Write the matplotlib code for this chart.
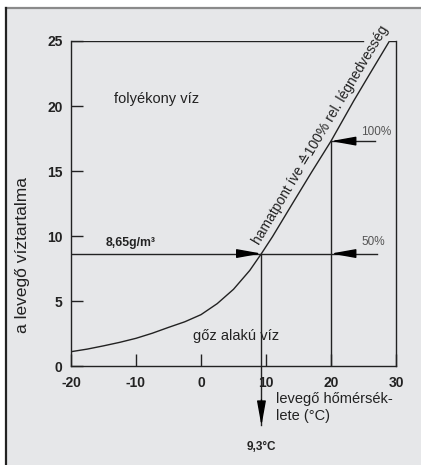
import numpy as np
import matplotlib
matplotlib.use("Agg")
import matplotlib.pyplot as plt
from matplotlib.patches import Rectangle

# dew point curve (air temperature in °C vs. water content in g/m³)
temp = [-20, -17.5, -15, -12.5, -10, -7.5, -5, -2.5, 0, 2.5, 5, 7.5, 9.3, 11, 14.2, 17, 20, 23.5, 26, 29]
water = [1.1, 1.3, 1.55, 1.82, 2.13, 2.52, 2.97, 3.4, 3.95, 4.8, 5.9, 7.35, 8.65, 9.95, 12.6, 14.9, 17.3, 20.4, 22.5, 25.0]

xticks = [-20, -10, 0, 10, 20, 30]
yticks = [0, 5, 10, 15, 20, 25]

dew_t, dew_w = 9.3, 8.65      # 50% example point
sat_t, sat_w = 20, 17.3       # 100% at 20 °C
top_line_end = 24.9           # frame top line stops before the curve label

plt.rcParams["font.family"] = ["Liberation Sans", "DejaVu Sans"]
plt.rcParams["axes.unicode_minus"] = False

fig = plt.figure(figsize=(4.21, 4.65), dpi=100)
fig.patches.append(Rectangle((6/421, 0), 1, 1 - 8/465, transform=fig.transFigure,
                             facecolor="#e6e7e9", edgecolor="none", zorder=-10))
fig.add_artist(plt.Line2D([6/421, 1], [1 - 8/465, 1 - 8/465], transform=fig.transFigure,
                          color="#8a8a8a", lw=1.6, zorder=-5))
fig.add_artist(plt.Line2D([6/421, 6/421], [0, 1 - 8/465], transform=fig.transFigure,
                          color="#222222", lw=1.6, zorder=-5))

ax = fig.add_axes([71/421, 1 - 366/465, 325/421, 325/465])
ax.set_zorder(5)
ax.set_facecolor("none")
ax.set_xlim(-20, 30)
ax.set_ylim(0, 25)
ax.spines["top"].set_visible(False)
for s in ["left", "right", "bottom"]:
    ax.spines[s].set_linewidth(1.0)
    ax.spines[s].set_color("#222222")

ax.set_xticks(xticks)
ax.set_yticks(yticks)
ax.tick_params(direction="in", length=8.6, width=1.0, color="#222222")
ax.tick_params(axis="y", pad=6.0)
ax.tick_params(axis="x", pad=7.5)
for lab in ax.get_xticklabels() + ax.get_yticklabels():
    lab.set_fontweight("bold")
    lab.set_fontsize(10)
    lab.set_color("#222222")

lc = "#222222"
# frame top line and join at the upper right
ax.plot([-20, top_line_end], [25, 25], color=lc, lw=1.0)
ax.plot([temp[-1], 30], [water[-1], water[-1]], color=lc, lw=1.0)

# dew point curve
ax.plot(temp, water, color=lc, lw=1.0)

# helper lines
ax.plot([-20, 27.1], [dew_w, dew_w], color=lc, lw=1.0)
ax.plot([sat_t, sat_t], [0, sat_w], color=lc, lw=1.0)
ax.plot([sat_t, 26.8], [sat_w, sat_w], color=lc, lw=1.0)
ax.plot([dew_t, dew_t], [dew_w, -4.5], color=lc, lw=1.0, clip_on=False)

astyle = "-|>,head_length=1.5,head_width=0.27"
def arrow(xy, xytext):
    ax.annotate("", xy=xy, xytext=xytext, annotation_clip=False,
                arrowprops=dict(arrowstyle=astyle, color="black", lw=1.0,
                                shrinkA=0, shrinkB=0))

arrow((dew_t, dew_w), (dew_t - 3.3, dew_w))
arrow((sat_t, dew_w), (sat_t + 3.6, dew_w))
arrow((sat_t, sat_w), (sat_t + 3.6, sat_w))
arrow((dew_t, -4.6), (dew_t, -2.6))

# texts
ax.text(-13.4, 20.5, "folyékony víz", fontsize=10.5, color="#222222", va="center")
ax.text(5.4, 2.3, "gőz alakú víz", fontsize=10.5, color="#222222", va="center", ha="center")
ax.text(-14.6, 9.5, "8,65g/m³", fontsize=8.8, fontweight="bold", color="#222222", va="center")
ax.text(24.6, 18.0, "100%", fontsize=8.5, color="#555555", va="center")
ax.text(24.7, 9.55, "50%", fontsize=8.5, color="#555555", va="center")
ax.text(dew_t, -6.2, "9,3°C", fontsize=8.5, fontweight="bold", color="#222222",
        va="center", ha="center", clip_on=False)
ax.text(11.5, -2.0, "levegő hőmérsék-\nlete (°C)", fontsize=10.5, color="#222222",
        va="top", ha="left", linespacing=1.3, clip_on=False)

# label along the curve, angle from display coordinates
p0 = ax.transData.transform((temp[14], water[14]))
p1 = ax.transData.transform((temp[17], water[17]))
ang = np.degrees(np.arctan2(p1[1] - p0[1], p1[0] - p0[0]))
ax.annotate("hamatpont íve ≙100% rel. légnedvesség", xy=(sat_t, sat_w), xytext=(-3, 2),
            textcoords="offset points", rotation=ang, rotation_mode="anchor",
            ha="center", va="bottom", fontsize=10, color="#222222", annotation_clip=False)

fig.text(23/421, 1 - 255/465, "a levegő víztartalma", rotation=90, fontsize=12.5,
         color="#222222", ha="center", va="center")

fig.savefig("out.png", dpi=100)
